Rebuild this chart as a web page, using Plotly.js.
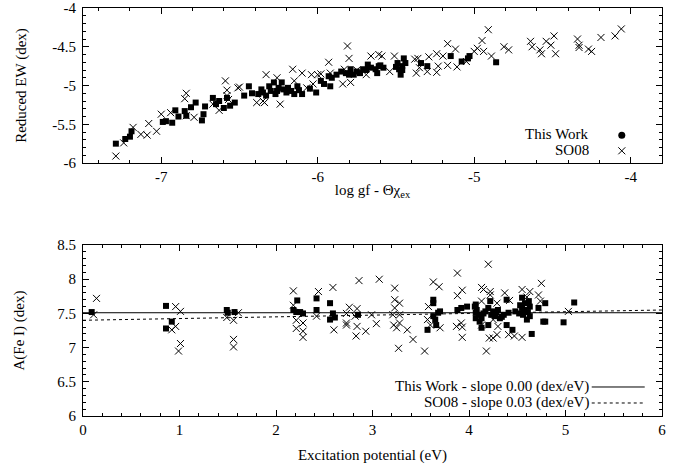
<!DOCTYPE html>
<html>
<head>
<meta charset="utf-8">
<script src="https://cdn.plot.ly/plotly-3.0.1.min.js"></script>
<style>html,body{margin:0;padding:0;background:#fff;}</style>
</head>
<body>
<div id="chart" style="width:692px;height:470px;"></div>
<script>
// ---- Top panel: reduced EW vs log gf - theta*chi ----
const twGf = [-7.29,-7.23,-7.20,-7.19,-6.99,-6.97,-6.93,-6.91,-6.89,-6.85,-6.84,-6.81,-6.78,-6.74,-6.73,-6.72,-6.67,-6.65,-6.63,-6.60,-6.58,-6.56,-6.53,-6.47,-6.44,-6.42,-6.38,-6.35,-6.33,-6.31,-6.30,-6.28,-6.27,-6.25,-6.23,-6.22,-6.19,-6.17,-6.15,-6.13,-6.10,-6.01,-5.98,-5.96,-5.93,-5.92,-5.91,-5.85,-5.82,-5.79,-5.77,-5.75,-5.71,-5.68,-5.66,-5.63,-5.61,-5.60,-5.62,-5.49,-5.48,-5.47,-5.45,-5.44,-5.46,-5.34,-5.30,-5.15,-5.08,-5.04,-5.03,-4.86,-6.36,-6.26,-6.20,-6.12,-6.05,-5.88,-5.80,-5.73,-5.69,-5.58,-5.50,-5.46];
const twEw = [-5.75,-5.69,-5.66,-5.59,-5.47,-5.46,-5.48,-5.32,-5.40,-5.33,-5.39,-5.28,-5.22,-5.45,-5.37,-5.27,-5.16,-5.24,-5.20,-5.29,-5.16,-5.26,-5.22,-5.13,-5.01,-5.10,-5.11,-5.09,-5.13,-5.01,-5.07,-4.96,-5.11,-5.03,-4.96,-5.05,-5.03,-5.07,-5.11,-5.01,-5.11,-5.09,-4.94,-4.98,-4.88,-5.01,-4.90,-4.82,-4.84,-4.79,-4.86,-4.82,-4.79,-4.73,-4.77,-4.79,-4.75,-4.74,-4.84,-4.71,-4.79,-4.86,-4.65,-4.71,-4.75,-4.71,-4.75,-4.62,-4.69,-4.65,-4.62,-4.70,-5.05,-5.07,-5.09,-5.06,-5.04,-4.86,-4.86,-4.84,-4.80,-4.77,-4.76,-4.80];
const soGf = [-7.29,-7.24,-7.18,-7.13,-7.09,-7.08,-7.03,-7.00,-6.94,-6.85,-6.84,-6.84,-6.79,-6.67,-6.63,-6.59,-6.58,-6.57,-6.51,-6.39,-6.34,-6.33,-6.26,-6.24,-6.16,-6.15,-6.10,-6.04,-6.00,-6.03,-5.93,-5.92,-5.84,-5.83,-5.81,-5.80,-5.66,-5.61,-5.69,-6.07,-5.59,-5.54,-5.51,-5.38,-5.36,-5.37,-5.35,-5.29,-5.30,-5.24,-5.23,-5.24,-5.20,-5.17,-5.12,-5.17,-5.11,-5.05,-5.00,-4.98,-4.95,-4.94,-4.91,-4.89,-4.81,-4.78,-4.64,-4.63,-4.58,-4.57,-4.54,-4.51,-4.49,-4.48,-4.34,-4.33,-4.33,-4.27,-4.25,-4.19,-4.10,-4.06,-6.58,-6.50,-6.35,-5.79,-5.98,-5.75];
const soEw = [-5.91,-5.74,-5.54,-5.63,-5.64,-5.49,-5.59,-5.37,-5.35,-5.17,-5.10,-5.39,-5.41,-5.24,-5.32,-4.94,-5.06,-5.18,-5.03,-5.22,-5.22,-4.86,-4.90,-5.24,-4.79,-4.94,-4.84,-4.86,-4.86,-4.98,-4.70,-4.84,-4.98,-4.79,-4.49,-4.65,-4.62,-4.60,-4.86,-5.03,-4.62,-4.82,-4.62,-4.66,-4.65,-4.84,-4.77,-4.63,-4.82,-4.59,-4.75,-4.83,-4.62,-4.46,-4.53,-4.74,-4.76,-4.69,-4.56,-4.52,-4.42,-4.56,-4.28,-4.62,-4.50,-4.54,-4.43,-4.50,-4.54,-4.59,-4.43,-4.48,-4.36,-4.59,-4.40,-4.48,-4.51,-4.53,-4.56,-4.38,-4.36,-4.27,-5.13,-5.02,-5.20,-4.96,-4.85,-4.80];

// ---- Bottom panel: A(Fe I) vs excitation potential ----
const twChi = [0.09,0.86,0.86,0.92,1.49,1.50,1.57,2.18,2.21,2.22,2.25,2.28,2.42,2.42,2.56,2.56,2.59,2.61,2.85,3.57,3.63,3.63,3.63,3.65,3.66,3.68,3.70,3.88,3.92,3.98,4.07,4.07,4.07,4.06,4.10,4.13,4.13,4.20,4.22,4.20,4.25,4.27,4.30,4.32,4.36,4.39,4.39,4.41,4.45,4.48,4.55,4.55,4.56,4.58,4.60,4.63,4.63,4.65,4.72,4.77,4.08,4.17,4.79,4.79,4.98,5.09,4.15,4.23,4.28,4.34,4.52,4.57,4.61,4.53,4.62,4.11];
const twAbund = [7.52,7.61,7.28,7.38,7.55,7.51,7.52,7.55,7.52,7.69,7.52,7.50,7.72,7.55,7.65,7.41,7.50,7.44,7.48,7.26,7.70,7.65,7.46,7.41,7.33,7.51,7.53,7.55,7.58,7.60,7.63,7.51,7.43,7.60,7.48,7.43,7.29,7.58,7.68,7.33,7.53,7.46,7.55,7.43,7.48,7.70,7.33,7.51,7.26,7.53,7.73,7.58,7.48,7.65,7.41,7.60,7.46,7.20,7.58,7.38,7.55,7.53,7.65,7.38,7.37,7.66,7.50,7.48,7.52,7.45,7.50,7.55,7.52,7.62,7.68,7.38];
const soChi = [0.14,0.11,0.96,1.01,0.92,0.96,1.01,0.99,1.49,1.56,1.61,1.56,1.56,2.18,2.18,2.21,2.21,2.28,2.28,2.28,2.44,2.42,2.59,2.60,2.73,2.73,2.86,3.07,2.76,2.73,2.84,2.82,2.84,2.83,2.93,2.99,3.04,3.23,3.23,3.23,3.21,3.22,3.25,3.27,3.28,3.28,3.28,3.36,3.42,3.54,3.63,3.69,3.58,3.57,3.60,3.70,3.88,3.88,3.93,3.87,3.92,3.93,3.93,4.20,4.13,4.15,4.22,4.22,4.13,4.29,4.37,4.42,4.55,4.63,4.72,4.74,4.60,4.75,4.13,4.25,4.30,4.29,4.21,4.25,4.41,4.47,4.55,4.18,4.58,5.03];
const soAbund = [7.72,7.48,7.60,7.53,7.26,7.31,7.06,6.95,7.44,7.40,7.51,7.12,7.01,7.83,7.62,7.40,7.28,7.36,7.24,7.15,7.82,7.46,7.88,7.26,7.50,7.36,7.98,8.00,7.59,7.33,7.57,7.46,7.31,7.17,7.24,7.48,7.35,7.87,7.70,7.58,7.48,7.33,7.29,6.99,7.65,7.48,7.36,7.26,7.12,6.95,7.96,7.89,7.60,7.41,7.33,7.29,8.09,7.76,7.84,7.31,7.36,7.30,7.15,8.22,7.88,7.85,7.82,7.77,7.68,7.65,7.80,7.69,7.85,7.82,7.77,7.68,7.74,7.94,7.33,7.41,7.31,7.19,7.14,7.14,7.19,7.17,7.15,6.95,7.51,7.53];

// fitted lines
const fitChi = [0, 6];
const twFit = [7.51, 7.51];
const soFit = [7.40, 7.55];

// tick labels
const gfTicks = [-7, -6, -5, -4];
const gfTickText = ["-7", "-6", "-5", "-4"];
const ewTicks = [-6, -5.5, -5, -4.5, -4];
const ewTickText = ["-6", "-5.5", "-5", "-4.5", "-4"];

const legendNames = ["This Work", "SO08"];
const fitNames = ["This Work - slope 0.00 (dex/eV)", "SO08 - slope 0.03 (dex/eV)"];

const FONT = '"Liberation Serif", serif';
const sqMarker = {symbol: "square", size: 6, color: "#000"};
const xMarker = {symbol: "x-thin-open", size: 7, color: "#000", line: {width: 1, color: "#000"}};

const traces = [
  {type: "scatter", mode: "markers", x: twGf, y: twEw, xaxis: "x", yaxis: "y", marker: sqMarker, showlegend: false, hoverinfo: "skip"},
  {type: "scatter", mode: "markers", x: soGf, y: soEw, xaxis: "x", yaxis: "y", marker: xMarker, showlegend: false, hoverinfo: "skip"},
  {type: "scatter", mode: "markers", x: twChi, y: twAbund, xaxis: "x2", yaxis: "y2", marker: sqMarker, showlegend: false, hoverinfo: "skip"},
  {type: "scatter", mode: "markers", x: soChi, y: soAbund, xaxis: "x2", yaxis: "y2", marker: xMarker, showlegend: false, hoverinfo: "skip"},
  {type: "scatter", mode: "lines", x: fitChi, y: twFit, xaxis: "x2", yaxis: "y2", line: {color: "#000", width: 1}, name: " ", legend: "legend3", showlegend: true, hoverinfo: "skip"},
  {type: "scatter", mode: "lines", x: fitChi, y: soFit, xaxis: "x2", yaxis: "y2", line: {color: "#000", width: 1, dash: "dot"}, name: " ", legend: "legend4", showlegend: true, hoverinfo: "skip"},
  // legend keys for top panel (no data of their own)
  {type: "scatter", mode: "markers", x: [null], y: [null], xaxis: "x", yaxis: "y", marker: {symbol: "circle", size: 7, color: "#000"}, name: " ", legend: "legend", showlegend: true},
  {type: "scatter", mode: "markers", x: [null], y: [null], xaxis: "x", yaxis: "y", marker: xMarker, name: " ", legend: "legend2", showlegend: true}
];

function axisBase() {
  return {
    showline: true, linecolor: "#000", linewidth: 1, mirror: "ticks",
    ticks: "inside", ticklen: 6, tickwidth: 1, tickcolor: "#000",
    showgrid: false, zeroline: false, fixedrange: true,
    ticklabeloverflow: "allow",
    tickfont: {family: FONT, size: 15, color: "#000"}
  };
}

const legBase = {bgcolor: "rgba(0,0,0,0)", borderwidth: 0, font: {family: FONT, size: 10}, xanchor: "left", yanchor: "middle", itemclick: false, itemdoubleclick: false};

const layout = {
  width: 692, height: 470,
  margin: {l: 83, r: 30, t: 8, b: 54, pad: 0},
  paper_bgcolor: "#fff", plot_bgcolor: "#fff",
  font: {family: FONT, size: 15, color: "#000"},
  xaxis: Object.assign(axisBase(), {
    domain: [0, 1], anchor: "y", range: [-7.5, -3.8],
    tickmode: "array", tickvals: gfTicks, ticktext: gfTickText,
    minor: {tickmode: "linear", tick0: -7, dtick: 0.2, ticks: "inside", ticklen: 3, tickcolor: "#000", showgrid: false},
    title: {text: "log gf - Θχ<sub>ex</sub>", font: {family: FONT, size: 15}, standoff: 0}
  }),
  yaxis: Object.assign(axisBase(), {
    domain: [0.620, 1], anchor: "x", range: [-6, -4],
    tickmode: "array", tickvals: ewTicks, ticktext: ewTickText,
    ticklabelstandoff: 3,
    minor: {tickmode: "linear", tick0: -6, dtick: 0.1, ticks: "inside", ticklen: 3, tickcolor: "#000", showgrid: false},
    title: {text: "Reduced EW (dex)", font: {family: FONT, size: 15}, standoff: 21}
  }),
  xaxis2: Object.assign(axisBase(), {
    domain: [0, 1], anchor: "y2", range: [0, 6],
    tickmode: "linear", tick0: 0, dtick: 1,
    minor: {tickmode: "linear", tick0: 0, dtick: 0.2, ticks: "inside", ticklen: 3, tickcolor: "#000", showgrid: false},
    title: {text: "Excitation potential (eV)", font: {family: FONT, size: 15}, standoff: 12}
  }),
  yaxis2: Object.assign(axisBase(), {
    domain: [0, 0.419], anchor: "x2", range: [6, 8.5],
    tickmode: "linear", tick0: 6, dtick: 0.5,
    ticklabelstandoff: 3,
    minor: {tickmode: "linear", tick0: 6, dtick: 0.1, ticks: "inside", ticklen: 3, tickcolor: "#000", showgrid: false},
    title: {text: "A(Fe I) (dex)", font: {family: FONT, size: 15}, standoff: 28}
  }),
  legend: Object.assign({}, legBase, {x: 0.896, y: 0.688}),
  legend2: Object.assign({}, legBase, {x: 0.896, y: 0.650}),
  legend3: Object.assign({}, legBase, {x: 0.87, y: 0.0711, itemwidth: 53}),
  legend4: Object.assign({}, legBase, {x: 0.87, y: 0.0319, itemwidth: 53}),
  annotations: [
    {xref: "paper", yref: "paper", x: 0.8774, y: 0.691, xanchor: "right", yanchor: "middle", showarrow: false, text: legendNames[0], font: {family: FONT, size: 15, color: "#000"}},
    {xref: "paper", yref: "paper", x: 0.8774, y: 0.652, xanchor: "right", yanchor: "middle", showarrow: false, text: legendNames[1], font: {family: FONT, size: 15, color: "#000"}},
    {xref: "paper", yref: "paper", x: 0.8774, y: 0.0711, xanchor: "right", yanchor: "middle", showarrow: false, text: fitNames[0], font: {family: FONT, size: 15, color: "#000"}},
    {xref: "paper", yref: "paper", x: 0.8774, y: 0.0319, xanchor: "right", yanchor: "middle", showarrow: false, text: fitNames[1], font: {family: FONT, size: 15, color: "#000"}}
  ]
};

Plotly.newPlot("chart", traces, layout, {staticPlot: true, displayModeBar: false});
</script>
</body>
</html>
